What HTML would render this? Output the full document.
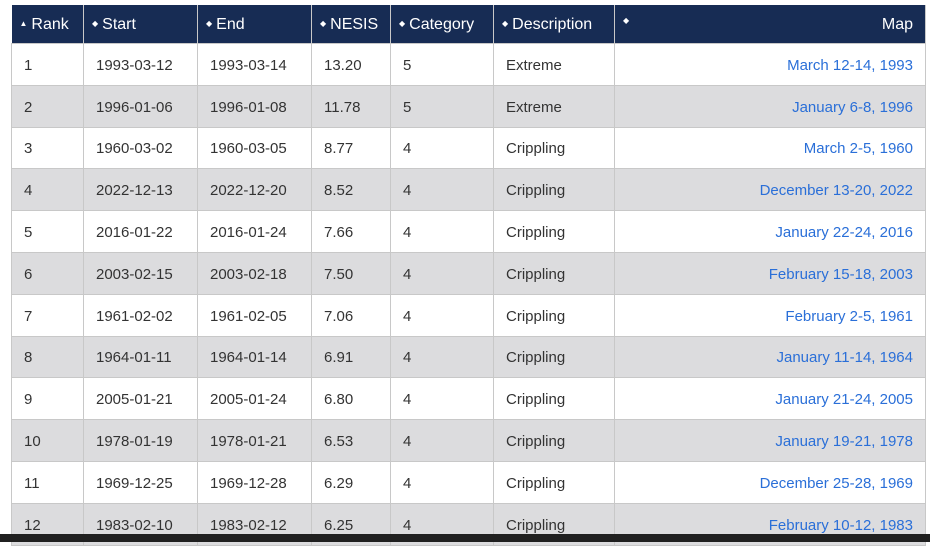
<!DOCTYPE html>
<html><head><meta charset="utf-8"><style>
html,body{margin:0;padding:0;width:930px;height:542px;overflow:hidden;background:#fff;font-family:"Liberation Sans",sans-serif;}
table{position:absolute;left:11px;top:5px;width:914px;border-collapse:collapse;table-layout:fixed;font-size:15px;color:#333;}
th{background:#172c54;color:#fff;font-weight:normal;text-align:left;height:36px;padding:2px 0 0 8px;border-right:1px solid #c8c8c8;font-size:16px;}
th .s{font-size:8px;vertical-align:3px;margin-right:4px;}
td{height:38.8px;padding:2px 0 0 12px;border:1px solid #c8c8c8;}
tr:nth-child(odd) td{background:#dcdcde;}
td.m{text-align:right;padding-right:12px;color:#2a6fd8;}
th.m{text-align:right;padding-right:12px;}
.bar{position:absolute;left:0;top:534px;width:930px;height:8px;background:#202020;}
</style></head><body>
<table>
<colgroup><col style="width:72px"><col style="width:114px"><col style="width:114px"><col style="width:79px"><col style="width:103px"><col style="width:121px"><col style="width:311px"></colgroup>
<tr><th><span class="s">▲</span>Rank</th><th><span class="s">◆</span>Start</th><th><span class="s">◆</span>End</th><th><span class="s">◆</span>NESIS</th><th><span class="s">◆</span>Category</th><th><span class="s">◆</span>Description</th><th class="m"><span class="s" style="float:left">◆</span>Map</th></tr>
<tr><td>1</td><td>1993-03-12</td><td>1993-03-14</td><td>13.20</td><td>5</td><td>Extreme</td><td class="m">March 12-14, 1993</td></tr>
<tr><td>2</td><td>1996-01-06</td><td>1996-01-08</td><td>11.78</td><td>5</td><td>Extreme</td><td class="m">January 6-8, 1996</td></tr>
<tr><td>3</td><td>1960-03-02</td><td>1960-03-05</td><td>8.77</td><td>4</td><td>Crippling</td><td class="m">March 2-5, 1960</td></tr>
<tr><td>4</td><td>2022-12-13</td><td>2022-12-20</td><td>8.52</td><td>4</td><td>Crippling</td><td class="m">December 13-20, 2022</td></tr>
<tr><td>5</td><td>2016-01-22</td><td>2016-01-24</td><td>7.66</td><td>4</td><td>Crippling</td><td class="m">January 22-24, 2016</td></tr>
<tr><td>6</td><td>2003-02-15</td><td>2003-02-18</td><td>7.50</td><td>4</td><td>Crippling</td><td class="m">February 15-18, 2003</td></tr>
<tr><td>7</td><td>1961-02-02</td><td>1961-02-05</td><td>7.06</td><td>4</td><td>Crippling</td><td class="m">February 2-5, 1961</td></tr>
<tr><td>8</td><td>1964-01-11</td><td>1964-01-14</td><td>6.91</td><td>4</td><td>Crippling</td><td class="m">January 11-14, 1964</td></tr>
<tr><td>9</td><td>2005-01-21</td><td>2005-01-24</td><td>6.80</td><td>4</td><td>Crippling</td><td class="m">January 21-24, 2005</td></tr>
<tr><td>10</td><td>1978-01-19</td><td>1978-01-21</td><td>6.53</td><td>4</td><td>Crippling</td><td class="m">January 19-21, 1978</td></tr>
<tr><td>11</td><td>1969-12-25</td><td>1969-12-28</td><td>6.29</td><td>4</td><td>Crippling</td><td class="m">December 25-28, 1969</td></tr>
<tr><td>12</td><td>1983-02-10</td><td>1983-02-12</td><td>6.25</td><td>4</td><td>Crippling</td><td class="m">February 10-12, 1983</td></tr>
</table>
<div class="bar"></div>
</body></html>
